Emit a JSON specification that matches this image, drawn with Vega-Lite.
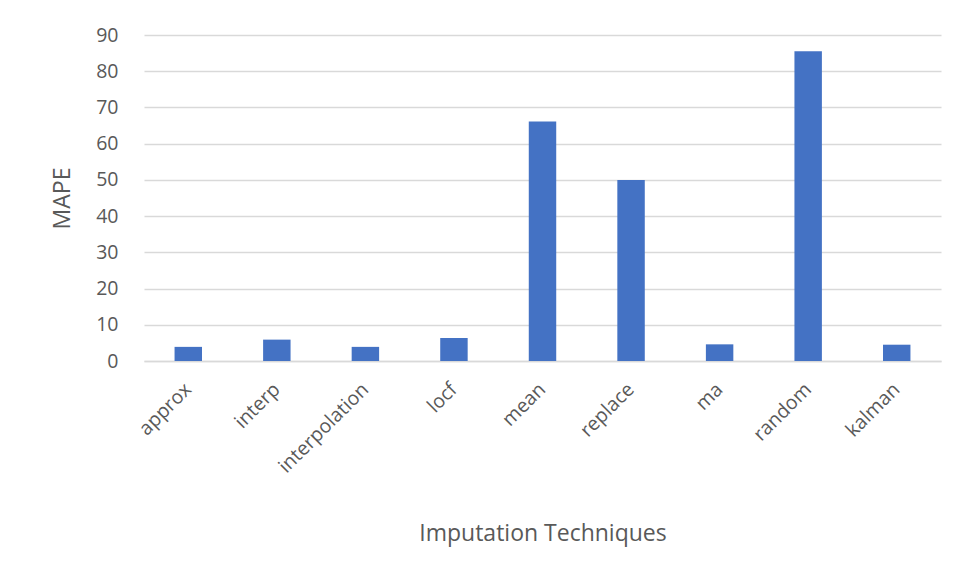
{
  "$schema": "https://vega.github.io/schema/vega-lite/v6.json",
  "width": 797,
  "height": 326,
  "autosize": {"type": "none"},
  "padding": {"left": 144, "top": 35, "right": 16, "bottom": 217},
  "background": "white",
  "data": {
    "values": [
      {"technique": "approx", "mape": 3.9},
      {"technique": "interp", "mape": 5.9},
      {"technique": "interpolation", "mape": 3.9},
      {"technique": "locf", "mape": 6.35},
      {"technique": "mean", "mape": 66.1},
      {"technique": "replace", "mape": 50.0},
      {"technique": "ma", "mape": 4.6},
      {"technique": "random", "mape": 85.5},
      {"technique": "kalman", "mape": 4.5}
    ]
  },
  "mark": {"type": "bar", "color": "#4472C4"},
  "encoding": {
    "x": {
      "field": "technique",
      "type": "nominal",
      "sort": null,
      "scale": {"paddingInner": 0.69, "paddingOuter": 0.345},
      "axis": {
        "title": "Imputation Techniques",
        "labelAngle": -45,
        "labelAlign": "right",
        "labelBaseline": "middle",
        "labelPadding": 25,
        "labelFont": "Open Sans",
        "labelFontSize": 19.5,
        "labelColor": "#595959",
        "ticks": false,
        "domainColor": "#d9d9d9",
        "domainWidth": 1.5,
        "titleFont": "Open Sans",
        "titleFontSize": 23,
        "titleFontWeight": "normal",
        "titleColor": "#595959",
        "titleY": 172,
        "titleBaseline": "middle"
      }
    },
    "y": {
      "field": "mape",
      "type": "quantitative",
      "scale": {"domain": [0, 90], "nice": false},
      "axis": {
        "title": "MAPE",
        "values": [0, 10, 20, 30, 40, 50, 60, 70, 80, 90],
        "domain": false,
        "ticks": false,
        "labelPadding": 26,
        "labelFont": "Open Sans",
        "labelFontSize": 19.5,
        "labelColor": "#595959",
        "gridColor": "#d9d9d9",
        "gridWidth": 1.5,
        "titleFont": "Open Sans",
        "titleFontSize": 23,
        "titleFontWeight": "normal",
        "titleColor": "#595959",
        "titleX": -82,
        "titleBaseline": "middle"
      }
    }
  },
  "config": {"view": {"stroke": null}}
}
